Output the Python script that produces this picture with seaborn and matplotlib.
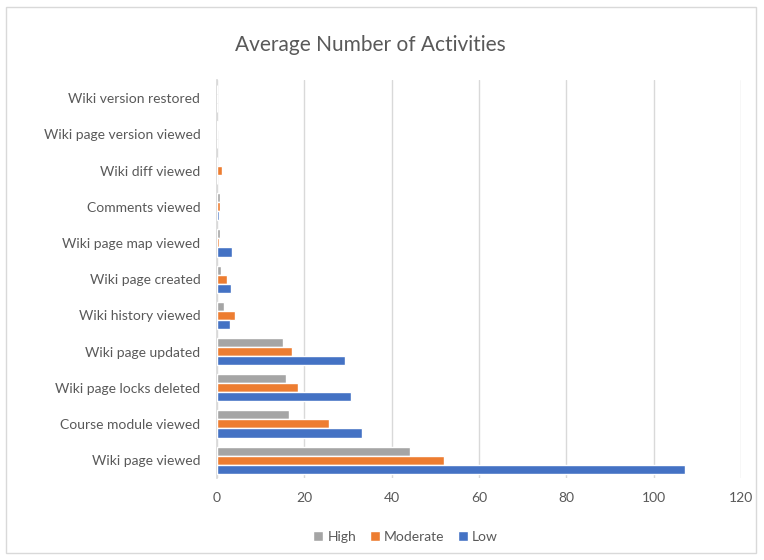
import matplotlib
matplotlib.use("Agg")
import matplotlib.pyplot as plt
import pandas as pd
import seaborn as sns
from matplotlib.patches import Rectangle

activities = [
    "Wiki version restored",
    "Wiki page version viewed",
    "Wiki diff viewed",
    "Comments viewed",
    "Wiki page map viewed",
    "Wiki page created",
    "Wiki history viewed",
    "Wiki page updated",
    "Wiki page locks deleted",
    "Course module viewed",
    "Wiki page viewed",
]
high = [0.0, 0.3, 0.1, 0.6, 0.8, 0.9, 1.5, 15.1, 15.7, 16.5, 44.2]
moderate = [0.0, 0.1, 1.1, 0.7, 0.5, 2.4, 4.1, 17.1, 18.6, 25.7, 52.0]
low = [0.0, 0.0, 0.0, 0.5, 3.5, 3.2, 2.9, 29.3, 30.7, 33.2, 107.2]
levels = ["High", "Moderate", "Low"]
colors = ["#A5A5A5", "#ED7D31", "#4472C4"]
xticks = [0, 20, 40, 60, 80, 100, 120]

rows = []
for lvl, vals in zip(levels, [high, moderate, low]):
    for act, v in zip(activities, vals):
        rows.append({"activity": act, "level": lvl, "value": v})
df = pd.DataFrame(rows)

sns.set_theme(style="white")
plt.rcParams["font.family"] = ["Lato", "DejaVu Sans"]
text_col = "#595959"

fig = plt.figure(figsize=(7.64, 5.60), dpi=100)
ax = fig.add_axes([0.284, 0.146, 0.686, 0.711])

sns.barplot(data=df, x="value", y="activity", hue="level", order=activities,
            hue_order=levels, palette=colors, orient="h", width=0.75,
            saturation=1, ax=ax, zorder=3)

ax.set_xlim(0, 120)
ax.set_xticks(xticks)
ax.xaxis.grid(True, color="#D9D9D9", linewidth=1, zorder=0)
ax.set_xlabel("")
ax.set_ylabel("")
for s in ["top", "right", "bottom"]:
    ax.spines[s].set_visible(False)
ax.spines["left"].set_color("#D9D9D9")
ax.tick_params(axis="both", length=0, labelsize=10, labelcolor=text_col)
ax.tick_params(axis="x", pad=10)
ax.tick_params(axis="y", pad=12)

ax.legend(loc="upper center", bbox_to_anchor=(0.36, -0.1), ncol=3, frameon=False,
          fontsize=10, labelcolor=text_col, handlelength=0.7, handleheight=0.7,
          handletextpad=0.3, columnspacing=1.0)

fig.suptitle("Average Number of Activities", x=0.485, y=0.937, fontsize=15, color=text_col)
fig.patches.append(Rectangle((0.008, 0.012), 0.982, 0.975, transform=fig.transFigure,
                             fill=False, edgecolor="#D9D9D9", linewidth=1))

fig.savefig("out.png", dpi=100)
